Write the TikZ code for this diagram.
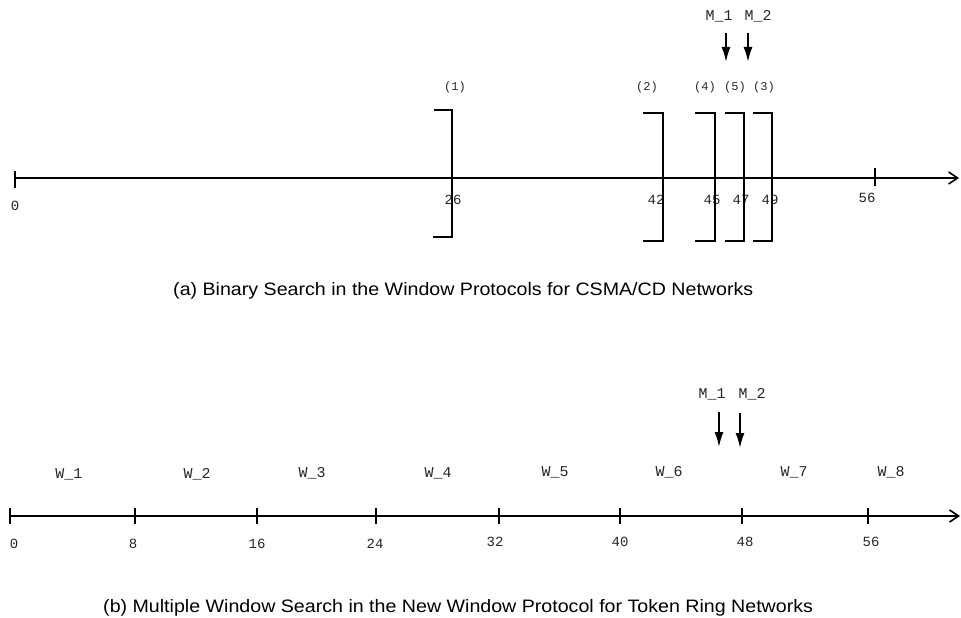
\documentclass[tikz,border=0pt]{standalone}
\usepackage{fontspec}
\setmainfont{Liberation Sans}
\newfontfamily\monof{Liberation Mono}
\usetikzlibrary{arrows.meta}
\tikzset{
  axisline/.style={line width=1.6pt, -{Straight Barb[length=9pt,width=12pt,line width=1.6pt]}},
  tickmark/.style={line width=2pt},
  bracketline/.style={line width=1.8pt},
  marrow/.style={line width=1.8pt, -{Latex[length=15pt,width=9pt]}},
  ticklab/.style={font=\monof\fontsize{14}{14}\selectfont, inner sep=0pt, text=black!85},
  paren/.style={font=\monof\fontsize{12}{12}\selectfont, inner sep=0pt, text=black!85},
  wlab/.style={font=\monof\fontsize{15}{15}\selectfont, inner sep=0pt, text=black!85},
  caption/.style={font=\fontsize{18}{18}\selectfont, inner sep=0pt, anchor=base west, xscale=1.09, transform shape}
}
\begin{document}
\begin{tikzpicture}[x=1pt,y=-1pt]
\useasboundingbox (0,0) rectangle (961,618);
% ---------- (a) ----------
\coordinate (a0) at (15,178);
\coordinate (aend) at (959,178);
\draw[axisline] (a0) -- (aend);
\draw[tickmark] (15,171) -- (15,188);
\draw[tickmark] (875,168) -- (875,186);
\node[ticklab] (l0a) at (15,206) {0};
\node[ticklab] (l26) at (453,200) {26};
\node[ticklab] (l42) at (656,200) {42};
\node[ticklab] (l45) at (712,200) {45};
\node[ticklab] (l47) at (741,200) {47};
\node[ticklab] (l49) at (770,200) {49};
\node[ticklab] (l56a) at (867,198) {56};
% brackets
\draw[bracketline] (434,110) -- (452,110) -- (452,237) -- (433,237);
\draw[bracketline] (643,113) -- (663,113) -- (663,241) -- (643,241);
\draw[bracketline] (695,113) -- (715,113) -- (715,241) -- (695,241);
\draw[bracketline] (725,113) -- (744,113) -- (744,241) -- (725,241);
\draw[bracketline] (753,113) -- (772,113) -- (772,241) -- (753,241);
\node[paren] (p1) at (455,87) {(1)};
\node[paren] (p2) at (647,87) {(2)};
\node[paren] (p4) at (705,87) {(4)};
\node[paren] (p5) at (735,87) {(5)};
\node[paren] (p3) at (764,87) {(3)};
\node[wlab] (m1a) at (719,16) {M\_1};
\node[wlab] (m2a) at (758,16) {M\_2};
\coordinate (m1as) at (726,33);
\coordinate (m1ae) at (726,62);
\coordinate (m2as) at (748,33);
\coordinate (m2ae) at (748,62);
\draw[marrow] (m1as) -- (m1ae);
\draw[marrow] (m2as) -- (m2ae);
\node[caption] (capa) at (173,295) {(a) Binary Search in the Window Protocols for CSMA/CD Networks};
% ---------- (b) ----------
\coordinate (b0) at (10,516);
\coordinate (bend) at (960,516);
\draw[axisline] (b0) -- (bend);
\foreach \x in {10,135,257,376,499,620,742,868}{
  \draw[tickmark] (\x,508) -- (\x,524);
}
\node[ticklab] (t0) at (14,544) {0};
\node[ticklab] (t8) at (133,544) {8};
\node[ticklab] (t16) at (257,544) {16};
\node[ticklab] (t24) at (375,544) {24};
\node[ticklab] (t32) at (495,542) {32};
\node[ticklab] (t40) at (620,542) {40};
\node[ticklab] (t48) at (745,542) {48};
\node[ticklab] (t56) at (871,542) {56};
\node[wlab] (w1) at (69,474) {W\_1};
\node[wlab] (w2) at (197,474) {W\_2};
\node[wlab] (w3) at (312,473) {W\_3};
\node[wlab] (w4) at (438,473) {W\_4};
\node[wlab] (w5) at (555,472) {W\_5};
\node[wlab] (w6) at (669,472) {W\_6};
\node[wlab] (w7) at (794,472) {W\_7};
\node[wlab] (w8) at (891,472) {W\_8};
\node[wlab] (m1b) at (712,394) {M\_1};
\node[wlab] (m2b) at (752,394) {M\_2};
\coordinate (m1bs) at (719,412);
\coordinate (m1be) at (719,447);
\coordinate (m2bs) at (740,413);
\coordinate (m2be) at (740,448);
\draw[marrow] (m1bs) -- (m1be);
\draw[marrow] (m2bs) -- (m2be);
\node[caption] (capb) at (103,612) {(b) Multiple Window Search in the New Window Protocol for Token Ring Networks};
\end{tikzpicture}
\end{document}
